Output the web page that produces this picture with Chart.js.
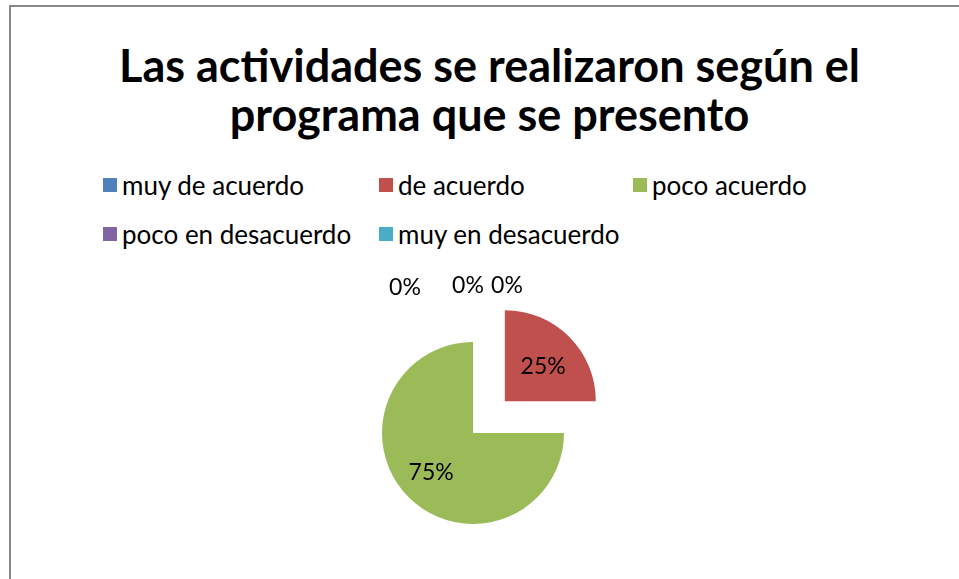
<!DOCTYPE html>
<html>
<head>
<meta charset="utf-8">
<script src="https://cdn.jsdelivr.net/npm/chart.js@4"></script>
<style>
  body { margin: 0; background: #fff; }
  #wrap { position: relative; width: 959px; height: 579px; overflow: hidden; font-family: Lato, "Open Sans", sans-serif; }
  #frame { position: absolute; left: 9px; top: 5px; width: 1000px; height: 700px; border: 2px solid #888; box-sizing: border-box; }
  #title { position: absolute; left: 0; width: 979px; top: 41px; text-align: center; font-weight: bold; font-size: 45px; line-height: 49px; color: #000; }
  #legend { position: absolute; left: 103px; top: 160px; font-size: 26px; color: #000; }
  .row { display: flex; height: 49px; align-items: center; }
  .item { display: flex; align-items: center; white-space: nowrap; }
  .box { width: 14px; height: 14px; margin-right: 5px; }
  canvas { position: absolute; left: 0; top: 0; }
</style>
</head>
<body>
<div id="wrap">
  <div id="frame"></div>
  <div id="title">Las actividades se realizaron según el<br>programa que se presento</div>
  <div id="legend"></div>
  <canvas id="pie" width="959" height="579"></canvas>
</div>
<script>
// datos del grafico
const categorias = ['muy de acuerdo', 'de acuerdo', 'poco acuerdo', 'poco en desacuerdo', 'muy en desacuerdo'];
const porcentajes = [0, 25, 75, 0, 0];
const colores = ['#4F81BD', '#C0504D', '#9BBB59', '#8064A2', '#4BACC6'];

// la porcion separada (de acuerdo); chart.js mueve offset/4 px
const separada = 1;
const offsetSep = 180;

// leyenda: 3 columnas como en Excel
const anchos = [276, 254, 200];
let html = '';
for (let i = 0; i < categorias.length; i += 3) {
    html += '<div class="row">';
    for (let j = i; j < Math.min(i + 3, categorias.length); j++) {
        html += `<div class="item" style="width:${anchos[j - i]}px"><span class="box" style="background:${colores[j]}"></span>${categorias[j]}</div>`;
    }
    html += '</div>';
}
document.getElementById('legend').innerHTML = html;

// etiquetas de porcentaje
const etiquetas = {
    id: 'etiquetas',
    afterDatasetsDraw(chart) {
        const ctx = chart.ctx;
        const meta = chart.getDatasetMeta(0);
        const datos = chart.data.datasets[0].data;
        ctx.save();
        ctx.font = '23px Lato, "Open Sans", sans-serif';
        ctx.fillStyle = '#000';
        ctx.textAlign = 'center';
        ctx.textBaseline = 'middle';
        let finCeros = 0;
        meta.data.forEach((arc, i) => {
            const p = arc.getProps(['x', 'y', 'startAngle', 'endAngle', 'outerRadius'], true);
            const texto = datos[i] + '%';
            if (datos[i] === 0) {
                // porciones vacias: arriba del pastel, separadas para no encimarse
                const yTop = p.y - p.outerRadius - 56;
                if (i === 0) {
                    ctx.fillText(texto, p.x - 68, yTop + 2);
                } else {
                    ctx.fillText(texto, p.x - 5 + finCeros * 39, yTop);
                    finCeros++;
                }
                return;
            }
            const mid = (p.startAngle + p.endAngle) / 2;
            const off = (arc.options.offset || 0) / 4;
            const d = off + p.outerRadius * (off ? 0.58 : 0.62);
            ctx.fillText(texto, p.x + Math.cos(mid) * d + (off ? 1 : -2), p.y + Math.sin(mid) * d + (off ? 3 : 0));
        });
        ctx.restore();
    }
};

new Chart(document.getElementById('pie'), {
    type: 'pie',
    data: {
        labels: categorias,
        datasets: [{
            data: porcentajes,
            backgroundColor: colores,
            borderWidth: 0,
            offset: (c) => c.dataIndex === separada ? offsetSep : 0
        }]
    },
    options: {
        responsive: false,
        animation: false,
        radius: 91,
        layout: { padding: { left: 382, right: 395, top: 342, bottom: 55 } },
        plugins: {
            legend: { display: false },
            tooltip: { enabled: false }
        }
    },
    plugins: [etiquetas]
});
</script>
</body>
</html>
